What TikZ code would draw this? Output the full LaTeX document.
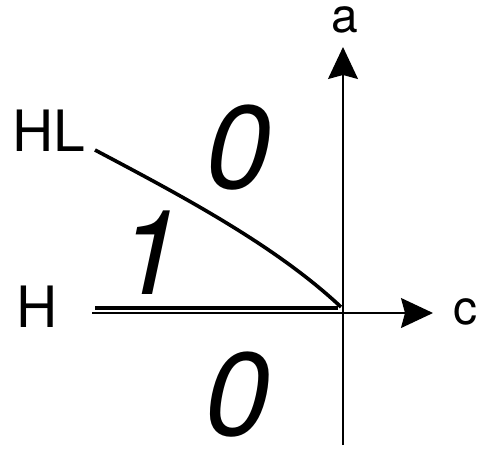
\documentclass[tikz,border=0pt]{standalone}
\usepackage{fontspec}
\setmainfont{TeX Gyre Heros}
\usepackage{tikz}
\usetikzlibrary{arrows.meta, positioning}

\begin{document}
\begin{tikzpicture}[
          x=1pt, y=-1pt,
          every node/.style={align=center, inner sep=0pt},
          axis/.style={line width=1.4pt, -{Stealth[length=32pt, width=30pt, inset=4pt]}},
          phase/.style={line width=3.6pt},
          label/.style={font=\fontsize{57}{60}\selectfont},
          axlabel/.style={font=\fontsize{48}{50}\selectfont},
          region/.style={font=\fontsize{118}{120}\selectfont\itshape}
        ]
          \useasboundingbox (0,0) rectangle (477,450);

          % Axes
          \coordinate (o) at (343,313);
          \coordinate (cstart) at (92,313);
          \coordinate (cend) at (433,313);
          \coordinate (astart) at (343,445);
          \coordinate (aend) at (343,47);
          \draw[axis] (cstart) -- (cend);
          \draw[axis] (astart) -- (aend);
          \node[axlabel] (c) at (465,312) {c};
          \node[axlabel] (a) at (345,20) {a};

          % Phase lines
          \node[label] (HL) at (49,131) {HL};
          \node[label] (H) at (37,307) {H};
          \coordinate (hlstart) at (95,150);
          \coordinate (hlend) at (341,307);
          \coordinate (hstart) at (95,308);
          \coordinate (hend) at (338,308);
          \draw[phase] (hlstart) .. controls (180,195) and (275,245) .. (hlend);
          \draw[phase, line width=4pt] (hstart) -- (hend);

          % Regions
          \node[region] (top) at (238,148) {0};
          \node[region] (mid) at (150,253) {1};
          \node[region] (bot) at (237,395) {0};
        \end{tikzpicture}
\end{document}
